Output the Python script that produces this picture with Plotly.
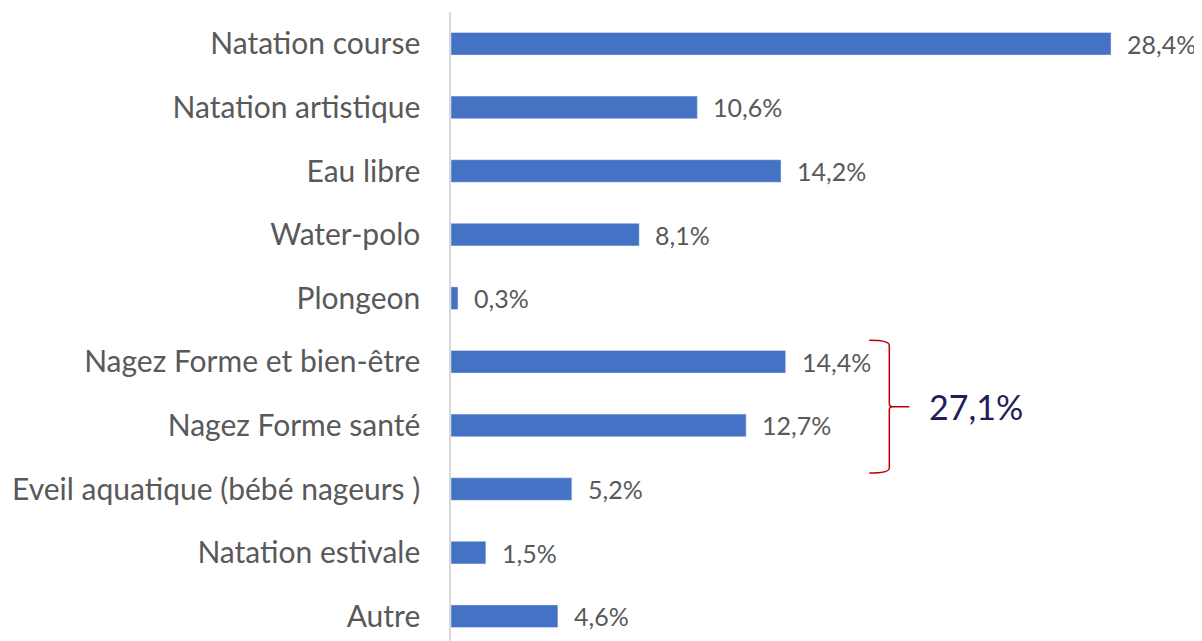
import plotly.graph_objects as go

categories = ["Natation course", "Natation artistique", "Eau libre", "Water-polo", "Plongeon",
              "Nagez Forme et bien-être", "Nagez Forme santé", "Eveil aquatique (bébé nageurs )",
              "Natation estivale", "Autre"]
values = [28.4, 10.6, 14.2, 8.1, 0.3, 14.4, 12.7, 5.2, 1.5, 4.6]
group = ["Nagez Forme et bien-être", "Nagez Forme santé"]

BAR = "#4472C4"
TXT = "#595959"
FONT = "Lato"

def fmt(v):
    return f"{v:.1f}".replace(".", ",") + "%"

idx = list(range(len(categories)))
fig = go.Figure(go.Bar(
    x=values, y=idx, orientation="h", marker_color=BAR, width=0.355,
    hoverinfo="skip",
))

annotations = []
for v, i in zip(values, idx):
    annotations.append(dict(x=v, y=i, text=fmt(v), showarrow=False, xanchor="left",
                            xshift=14, font=dict(family=FONT, size=25, color=TXT)))

# bracket around group
gi = [categories.index(g) for g in group]
gv = [values[i] for i in gi]
total = sum(gv)
top = min(gi) - 0.34
bot = max(gi) + 0.75
mid = (top + bot) / 2
x0 = max(gv) + 3.6
xv = x0 + 0.86
xt = xv + 0.86
path = (f"M {x0},{top} Q {xv},{top} {xv},{top+0.08} L {xv},{mid-0.05} "
        f"Q {xv},{mid} {xv+0.15},{mid} L {xt},{mid} M {xv+0.15},{mid} Q {xv},{mid} {xv},{mid+0.05} "
        f"L {xv},{bot-0.08} Q {xv},{bot} {x0},{bot}")
shapes = [dict(type="path", path=path, xref="x", yref="y", line=dict(color="#C00000", width=1.5))]
annotations.append(dict(x=xt + 0.75, y=mid, text=fmt(total), showarrow=False, xanchor="left",
                        font=dict(family=FONT, size=34, color="#211D58")))

fig.update_layout(
    width=1194, height=633, margin=dict(l=443, r=0, t=4, b=0),
    plot_bgcolor="white", paper_bgcolor="white", showlegend=False,
    annotations=annotations, shapes=shapes,
    xaxis=dict(range=[0, 751 / 23.24], visible=False, fixedrange=True),
    yaxis=dict(range=[9.39, -0.5], tickvals=idx, ticktext=categories,
               showline=True, linecolor="#D9D9D9", linewidth=1.5, showgrid=False,
               zeroline=False, ticks="", ticklabelstandoff=23,
               tickfont=dict(family=FONT, size=30, color=TXT)),
)
fig.write_html("out.html")
